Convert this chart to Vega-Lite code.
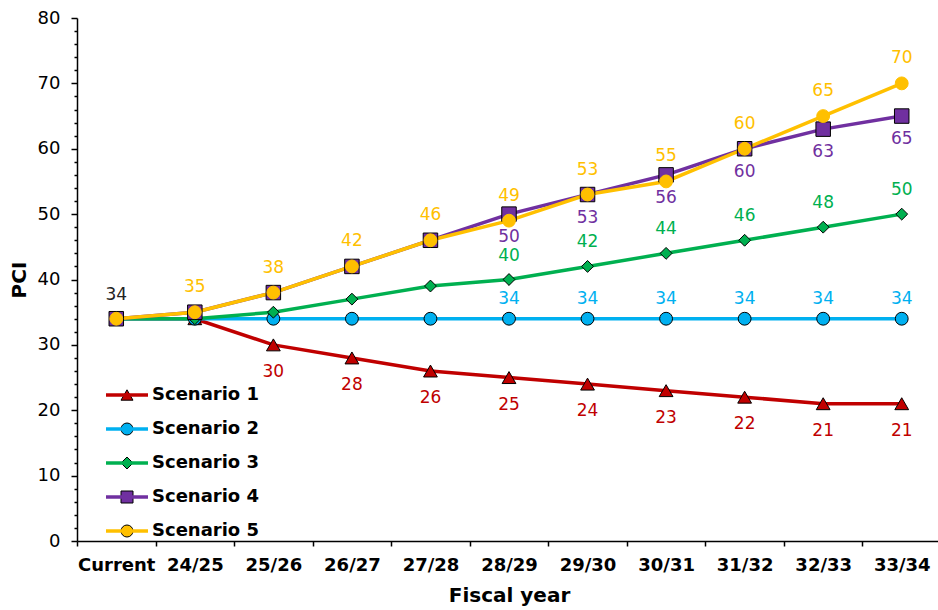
{
 "$schema": "https://vega.github.io/schema/vega-lite/v6.json",
 "width": 864,
 "height": 523,
 "autosize": {"type": "none"},
 "padding": {"left": 77, "top": 18, "right": -3, "bottom": 69},
 "background": "white",
 "config": {
  "font": "DejaVu Sans",
  "view": {"stroke": null},
  "axis": {"grid": false, "domainColor": "black", "tickColor": "black", "labelColor": "black", "titleColor": "black", "domainWidth": 1.5, "tickWidth": 1.5}
 },
 "data": {"values": [
  {"year": "Current", "series": "Scenario 1", "value": 34},
  {"year": "24/25", "series": "Scenario 1", "value": 34},
  {"year": "25/26", "series": "Scenario 1", "value": 30},
  {"year": "26/27", "series": "Scenario 1", "value": 28},
  {"year": "27/28", "series": "Scenario 1", "value": 26},
  {"year": "28/29", "series": "Scenario 1", "value": 25},
  {"year": "29/30", "series": "Scenario 1", "value": 24},
  {"year": "30/31", "series": "Scenario 1", "value": 23},
  {"year": "31/32", "series": "Scenario 1", "value": 22},
  {"year": "32/33", "series": "Scenario 1", "value": 21},
  {"year": "33/34", "series": "Scenario 1", "value": 21},
  {"year": "Current", "series": "Scenario 2", "value": 34},
  {"year": "24/25", "series": "Scenario 2", "value": 34},
  {"year": "25/26", "series": "Scenario 2", "value": 34},
  {"year": "26/27", "series": "Scenario 2", "value": 34},
  {"year": "27/28", "series": "Scenario 2", "value": 34},
  {"year": "28/29", "series": "Scenario 2", "value": 34},
  {"year": "29/30", "series": "Scenario 2", "value": 34},
  {"year": "30/31", "series": "Scenario 2", "value": 34},
  {"year": "31/32", "series": "Scenario 2", "value": 34},
  {"year": "32/33", "series": "Scenario 2", "value": 34},
  {"year": "33/34", "series": "Scenario 2", "value": 34},
  {"year": "Current", "series": "Scenario 3", "value": 34},
  {"year": "24/25", "series": "Scenario 3", "value": 34},
  {"year": "25/26", "series": "Scenario 3", "value": 35},
  {"year": "26/27", "series": "Scenario 3", "value": 37},
  {"year": "27/28", "series": "Scenario 3", "value": 39},
  {"year": "28/29", "series": "Scenario 3", "value": 40},
  {"year": "29/30", "series": "Scenario 3", "value": 42},
  {"year": "30/31", "series": "Scenario 3", "value": 44},
  {"year": "31/32", "series": "Scenario 3", "value": 46},
  {"year": "32/33", "series": "Scenario 3", "value": 48},
  {"year": "33/34", "series": "Scenario 3", "value": 50},
  {"year": "Current", "series": "Scenario 4", "value": 34},
  {"year": "24/25", "series": "Scenario 4", "value": 35},
  {"year": "25/26", "series": "Scenario 4", "value": 38},
  {"year": "26/27", "series": "Scenario 4", "value": 42},
  {"year": "27/28", "series": "Scenario 4", "value": 46},
  {"year": "28/29", "series": "Scenario 4", "value": 50},
  {"year": "29/30", "series": "Scenario 4", "value": 53},
  {"year": "30/31", "series": "Scenario 4", "value": 56},
  {"year": "31/32", "series": "Scenario 4", "value": 60},
  {"year": "32/33", "series": "Scenario 4", "value": 63},
  {"year": "33/34", "series": "Scenario 4", "value": 65},
  {"year": "Current", "series": "Scenario 5", "value": 34},
  {"year": "24/25", "series": "Scenario 5", "value": 35},
  {"year": "25/26", "series": "Scenario 5", "value": 38},
  {"year": "26/27", "series": "Scenario 5", "value": 42},
  {"year": "27/28", "series": "Scenario 5", "value": 46},
  {"year": "28/29", "series": "Scenario 5", "value": 49},
  {"year": "29/30", "series": "Scenario 5", "value": 53},
  {"year": "30/31", "series": "Scenario 5", "value": 55},
  {"year": "31/32", "series": "Scenario 5", "value": 60},
  {"year": "32/33", "series": "Scenario 5", "value": 65},
  {"year": "33/34", "series": "Scenario 5", "value": 70}
 ]},
 "encoding": {
  "x": {
   "field": "year", "type": "ordinal",
   "sort": ["Current", "24/25", "25/26", "26/27", "27/28", "28/29", "29/30", "30/31", "31/32", "32/33", "33/34"],
   "scale": {"type": "band", "paddingInner": 0, "paddingOuter": 0},
   "axis": {"title": "Fiscal year", "titleFontWeight": "bold", "titleFontSize": 20, "titlePadding": 11,
            "labelFontWeight": "bold", "labelFontSize": 18, "labelAngle": 0, "labelPadding": 10,
            "tickBand": "extent", "tickSize": 5, "labelOverlap": false}
  },
  "y": {
   "field": "value", "type": "quantitative",
   "scale": {"domain": [0, 80], "nice": false},
   "axis": {"title": "PCI", "titleFontWeight": "bold", "titleFontSize": 20, "titlePadding": 8,
            "values": [0,2,4,6,8,10,12,14,16,18,20,22,24,26,28,30,32,34,36,38,40,42,44,46,48,50,52,54,56,58,60,62,64,66,68,70,72,74,76,78,80],
            "labelExpr": "datum.value % 10 === 0 ? datum.label : ''",
            "labelOverlap": false, "labelFontSize": 18, "labelPadding": 11,
            "tickSize": {"condition": {"test": "datum.value % 10 === 0", "value": 6}, "value": 3}}
  }
 },
 "layer": [
  {
   "mark": {"type": "line", "strokeWidth": 3.5},
   "encoding": {
    "color": {"field": "series", "type": "nominal",
     "scale": {"domain": ["Scenario 1", "Scenario 2", "Scenario 3", "Scenario 4", "Scenario 5"], "range": ["#C00000", "#00B0F0", "#00B050", "#7030A0", "#FFC000"]},
     "legend": {"title": null, "orient": "none", "legendX": 27, "legendY": 368, "padding": 0,
      "symbolType": "M-3.5,0H3.5", "symbolSize": 144, "symbolStrokeWidth": 3.5, "symbolOffset": 14,
      "labelFontWeight": "bold", "labelFontSize": 18, "labelColor": "black", "labelOffset": 16, "rowPadding": 16}}
   }
  },
  {
   "mark": {"type": "point", "filled": true, "opacity": 1, "strokeWidth": 1},
   "encoding": {
    "fill": {"field": "series", "type": "nominal",
     "scale": {"domain": ["Scenario 1", "Scenario 2", "Scenario 3", "Scenario 4", "Scenario 5"], "range": ["#C00000", "#00B0F0", "#00B050", "#7030A0", "#FFC000"]},
     "legend": {"title": null, "orient": "none", "legendX": 27, "legendY": 368, "padding": 0,
      "symbolSize": 144, "symbolOffset": 14, "symbolStrokeWidth": 1,
      "labelExpr": "''", "labelFontSize": 18, "labelOffset": 16, "rowPadding": 16,
      "encode": {"symbols": {"update": {
        "stroke": {"signal": "datum.value === 'Scenario 5' ? '#FFC000' : 'black'"},
        "strokeWidth": {"value": 1}}}}}},
    "shape": {"field": "series", "type": "nominal",
     "scale": {"domain": ["Scenario 1", "Scenario 2", "Scenario 3", "Scenario 4", "Scenario 5"], "range": ["triangle-up", "circle", "diamond", "square", "circle"]}},
    "size": {"condition": [
      {"test": "datum.series === 'Scenario 4'", "value": 210},
      {"test": "datum.series === 'Scenario 3'", "value": 140},
      {"test": "datum.series === 'Scenario 1'", "value": 190}
     ], "value": 165},
    "stroke": {"condition": {"test": "datum.series === 'Scenario 5'", "value": "#FFC000"}, "value": "black"}
   }
  },
  {
   "transform": [{"filter": "datum.series === 'Scenario 5' && datum.year === 'Current'"}],
   "mark": {"type": "text", "fontSize": 17, "dy": -24, "color": "#222222"},
   "encoding": {"text": {"field": "value"}}
  },
  {
   "transform": [{"filter": "datum.series === 'Scenario 1' && datum.year !== 'Current' && datum.year !== '24/25'"}],
   "mark": {"type": "text", "fontSize": 17, "dy": 27, "color": "#C00000"},
   "encoding": {"text": {"field": "value"}}
  },
  {
   "transform": [{"filter": "datum.series === 'Scenario 2' && indexof(['28/29','29/30','30/31','31/32','32/33','33/34'], datum.year) >= 0"}],
   "mark": {"type": "text", "fontSize": 17, "dy": -20, "color": "#00B0F0"},
   "encoding": {"text": {"field": "value"}}
  },
  {
   "transform": [{"filter": "datum.series === 'Scenario 3' && indexof(['28/29','29/30','30/31','31/32','32/33','33/34'], datum.year) >= 0"}],
   "mark": {"type": "text", "fontSize": 17, "dy": -24, "color": "#00B050"},
   "encoding": {"text": {"field": "value"}}
  },
  {
   "transform": [{"filter": "datum.series === 'Scenario 4' && indexof(['28/29','29/30','30/31','31/32','32/33','33/34'], datum.year) >= 0"}],
   "mark": {"type": "text", "fontSize": 17, "dy": 23, "color": "#7030A0"},
   "encoding": {"text": {"field": "value"}}
  },
  {
   "transform": [{"filter": "datum.series === 'Scenario 5' && datum.year !== 'Current'"}],
   "mark": {"type": "text", "fontSize": 17, "dy": -25, "color": "#FFC000"},
   "encoding": {"text": {"field": "value"}}
  }
 ],
 "resolve": {"legend": {"color": "independent"}}
}
